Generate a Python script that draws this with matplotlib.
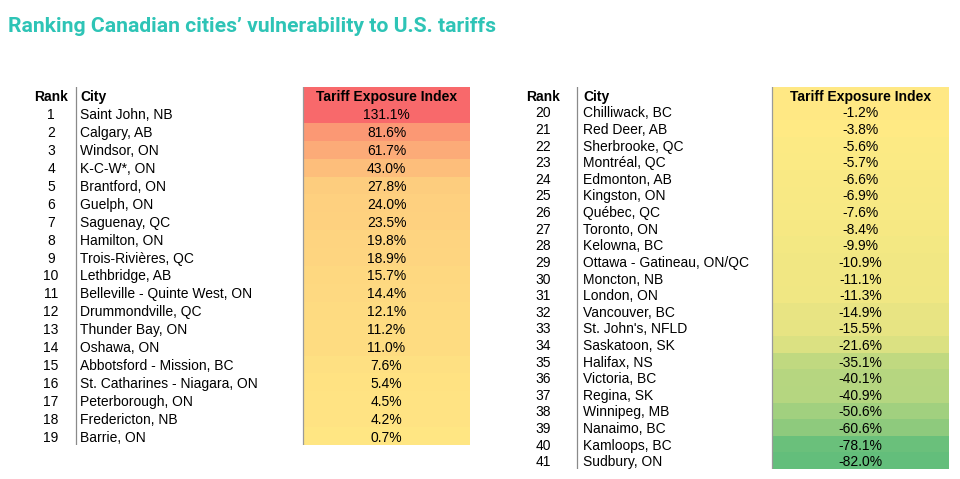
import matplotlib.pyplot as plt
from matplotlib.colors import LinearSegmentedColormap, TwoSlopeNorm
import numpy as np

title = "Ranking Canadian cities\u2019 vulnerability to U.S. tariffs"

ranks = list(range(1, 42))
cities = [
    "Saint John, NB", "Calgary, AB", "Windsor, ON", "K-C-W*, ON", "Brantford, ON",
    "Guelph, ON", "Saguenay, QC", "Hamilton, ON", "Trois-Rivi\u00e8res, QC", "Lethbridge, AB",
    "Belleville - Quinte West, ON", "Drummondville, QC", "Thunder Bay, ON", "Oshawa, ON",
    "Abbotsford - Mission, BC", "St. Catharines - Niagara, ON", "Peterborough, ON",
    "Fredericton, NB", "Barrie, ON",
    "Chilliwack, BC", "Red Deer, AB", "Sherbrooke, QC", "Montr\u00e9al, QC", "Edmonton, AB",
    "Kingston, ON", "Qu\u00e9bec, QC", "Toronto, ON", "Kelowna, BC", "Ottawa - Gatineau, ON/QC",
    "Moncton, NB", "London, ON", "Vancouver, BC", "St. John's, NFLD", "Saskatoon, SK",
    "Halifax, NS", "Victoria, BC", "Regina, SK", "Winnipeg, MB", "Nanaimo, BC",
    "Kamloops, BC", "Sudbury, ON",
]
exposure = [
    131.1, 81.6, 61.7, 43.0, 27.8, 24.0, 23.5, 19.8, 18.9, 15.7,
    14.4, 12.1, 11.2, 11.0, 7.6, 5.4, 4.5, 4.2, 0.7,
    -1.2, -3.8, -5.6, -5.7, -6.6, -6.9, -7.6, -8.4, -9.9, -10.9,
    -11.1, -11.3, -14.9, -15.5, -21.6, -35.1, -40.1, -40.9, -50.6, -60.6,
    -78.1, -82.0,
]
header = ["Rank", "City", "Tariff Exposure Index"]

W, H = 960, 479
fig = plt.figure(figsize=(W / 100, H / 100), dpi=100)

# Excel style 3-colour scale: green (min) -> yellow (median) -> red (max)
cmap = LinearSegmentedColormap.from_list("xl_rdylgn", ["#63BE7B", "#FFEB84", "#F8696B"])
norm = TwoSlopeNorm(vmin=min(exposure), vcenter=np.median(exposure), vmax=max(exposure))

FONT = "Liberation Sans"
FS = 10


def draw_table(lo, hi, top, bottom, rank_x, line_x, city_x, col_x0, col_x1):
    vals = exposure[lo:hi]
    n = len(vals) + 1
    ax = fig.add_axes([0, 1 - bottom / H, 1, (bottom - top) / H])
    ax.set_xlim(0, W)
    ax.set_ylim(n - 0.5, -0.5)
    ax.axis("off")

    colors = [cmap(norm(v)) for v in vals]
    rows = np.arange(1, n)
    ax.barh(rows, col_x1 - col_x0, left=col_x0, height=1.0, color=colors, linewidth=0)
    # header cell takes the colour of the first row
    ax.barh([0], col_x1 - col_x0, left=col_x0, height=1.0, color=colors[0], linewidth=0)
    ax.plot([col_x0, col_x0], [-0.5, n - 0.5], color="#9a9a9a", lw=0.9)
    ax.plot([line_x, line_x], [-0.5, n - 0.5], color="#8a8a8a", lw=0.9)

    col_c = (col_x0 + col_x1) / 2
    kw = dict(va="center_baseline", fontsize=FS, family=FONT)
    ax.text(rank_x, 0, header[0], ha="center", fontweight="bold", **kw)
    ax.text(city_x, 0, header[1], ha="left", fontweight="bold", **kw)
    ax.text(col_c, 0, header[2], ha="center", fontweight="bold", **kw)
    for i, r in enumerate(rows):
        ax.text(rank_x, r, str(ranks[lo + i]), ha="center", **kw)
        ax.text(city_x, r, cities[lo + i], ha="left", **kw)
        ax.text(col_c, r, f"{vals[i]:.1f}%", ha="center", **kw)


draw_table(0, 19, 87, 445, 51, 75.5, 80, 303, 470)
draw_table(19, 41, 87, 469, 543.5, 577, 583, 772, 949)

fig.text(8 / W, 1 - 32 / H, title, ha="left", va="baseline", fontsize=15.2,
         fontweight="bold", family="Roboto", color="#2ec4b6")

fig.savefig("out.png", dpi=100)
